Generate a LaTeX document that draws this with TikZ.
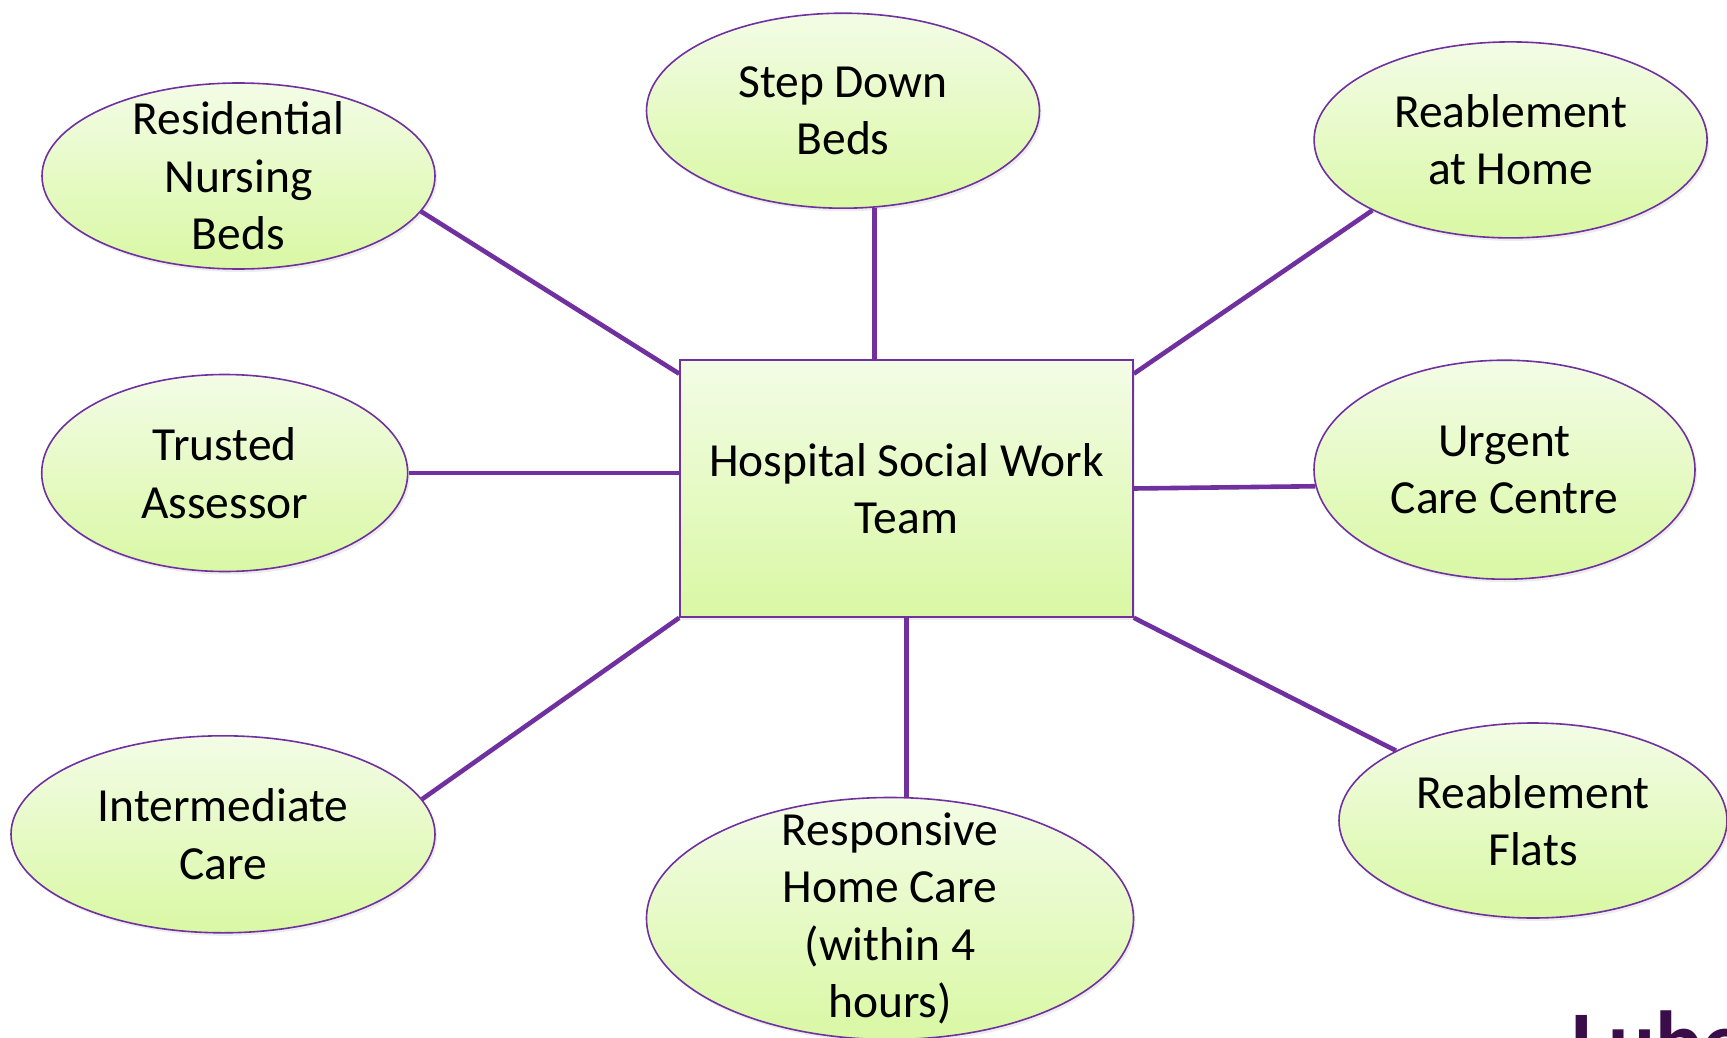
\documentclass[tikz,border=0pt]{standalone}
\usepackage{fontspec}
\setmainfont{Carlito}
\usetikzlibrary{shapes.geometric,shadows}
\definecolor{linepurple}{HTML}{7030A0}
\definecolor{fillTop}{HTML}{F3FCE6}
\definecolor{fillBot}{HTML}{D9F8A4}
\definecolor{logopurple}{HTML}{3A0C48}
\tikzset{
  txt/.style={align=center, inner sep=0pt, font=\fontsize{47.5}{57.5}\selectfont},
  bubble/.style={ellipse, draw=linepurple, line width=1.6pt, inner sep=0pt,
    top color=fillTop, bottom color=fillBot,
    drop shadow={opacity=0.15, shadow xshift=2pt, shadow yshift=-3pt}},
  hub/.style={rectangle, draw=linepurple, line width=1.6pt, inner sep=0pt,
    top color=fillTop, bottom color=fillBot, align=center,
    font=\fontsize{47.5}{57.5}\selectfont,
    drop shadow={opacity=0.15, shadow xshift=2pt, shadow yshift=-3pt}},
  conn/.style={draw=linepurple, line width=4.6pt}
}
\begin{document}
\begin{tikzpicture}[x=1pt,y=-1pt]
\useasboundingbox (0,0) rectangle (1727,1038);
\fill[white] (0,0) rectangle (1727,1038);

\node[hub, minimum width=453pt, minimum height=257pt] (hsw) at (906.5,488.5) {Hospital Social Work\\Team};

\node[bubble, minimum width=393pt, minimum height=186pt] (res) at (238.5,176) {};
\node[bubble, minimum width=393pt, minimum height=195pt] (sd) at (843,110.7) {};
\node[bubble, minimum width=393pt, minimum height=196pt] (rah) at (1510.6,139.9) {};
\node[bubble, minimum width=366pt, minimum height=197pt] (ta) at (224.7,473) {};
\node[bubble, minimum width=381pt, minimum height=219pt] (ucc) at (1504.5,469.7) {};
\node[bubble, minimum width=424pt, minimum height=197pt] (ic) at (223,834.3) {};
\node[bubble, minimum width=487pt, minimum height=242pt] (rhc) at (890,918.5) {};
\node[bubble, minimum width=388pt, minimum height=195pt] (rf) at (1533,820.5) {};

\node[txt] (res-t) at (res.center) {Residential\\Nursing\\Beds};
\node[txt] (sd-t) at (sd.center) {Step Down\\Beds};
\node[txt] (rah-t) at (rah.center) {Reablement\\at Home};
\node[txt] (ta-t) at (ta.center) {Trusted\\Assessor};
\node[txt] (ucc-t) at (ucc.center) {Urgent\\Care Centre};
\node[txt] (ic-t) at (ic.center) {Intermediate\\Care};
\node[txt] (rhc-t) at (rhc.center) {Responsive\\Home Care\\(within 4\\hours)};
\node[txt] (rf-t) at (rf.center) {Reablement\\Flats};

\draw[conn] (res.-11) -- ([yshift=-14.5pt]hsw.north west);
\draw[conn] (sd.-72.5) -- (sd.-72.5 |- hsw.north);
\draw[conn] (rah.-153) -- ([yshift=-14.5pt]hsw.north east);
\draw[conn] (ta.east) -- (ta.east -| hsw.west);
\draw[conn] (hsw.east) -- (ucc.185.6);
\draw[conn] (ic.10.5) -- (hsw.south west);
\draw[conn] (hsw.south) -- (hsw.south |- rhc.north);
\draw[conn] (hsw.south east) -- (rf.153.6);

\node[anchor=base west, inner sep=0pt, text=logopurple,
  font=\fontsize{88}{100}\selectfont\bfseries] (logo) at (1571,1072.6) {Lube};
\end{tikzpicture}
\end{document}
